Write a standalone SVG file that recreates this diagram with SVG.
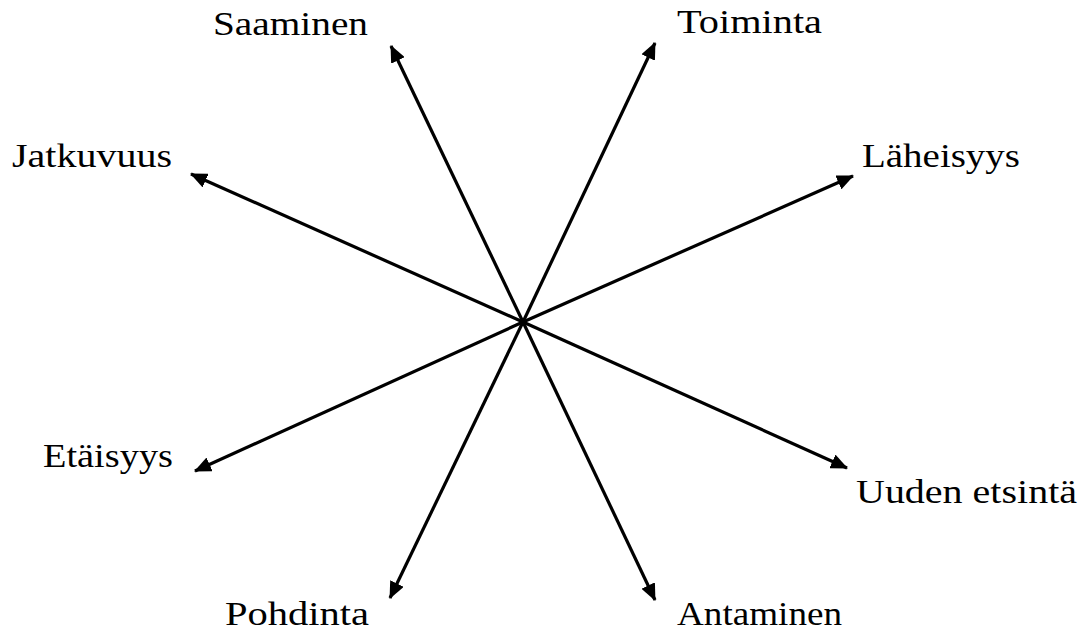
<svg xmlns="http://www.w3.org/2000/svg" width="1081" height="632" viewBox="0 0 1081 632">
<style>
.lbl{font-family:'Liberation Serif',Tinos,'Times New Roman',Times,serif;font-size:34px;fill:#000}
.ax{stroke:#000;stroke-width:3.2;fill:none;marker-end:url(#ah)}
</style>
<defs>
<marker id="ah" markerUnits="userSpaceOnUse" markerWidth="17" markerHeight="15" refX="16" refY="7.5" orient="auto">
<path d="M0,0 L17,7.5 L0,15 Z" fill="#000"/>
</marker>
</defs>
<rect width="1081" height="632" fill="#fff"/>
<g id="connectors">
<line class="ax" x1="523" y1="322" x2="391" y2="46"/>
<line class="ax" x1="523" y1="322" x2="655" y2="43"/>
<line class="ax" x1="523" y1="322" x2="191" y2="174"/>
<line class="ax" x1="523" y1="322" x2="853" y2="176"/>
<line class="ax" x1="523" y1="322" x2="195" y2="471"/>
<line class="ax" x1="523" y1="322" x2="847" y2="468"/>
<line class="ax" x1="523" y1="322" x2="390" y2="598"/>
<line class="ax" x1="523" y1="322" x2="655" y2="600"/>
</g>
<g id="n-saaminen"><text class="lbl" x="213" y="35" textLength="155" lengthAdjust="spacingAndGlyphs">Saaminen</text></g>
<g id="n-toiminta"><text class="lbl" x="677" y="33" textLength="145" lengthAdjust="spacingAndGlyphs">Toiminta</text></g>
<g id="n-jatkuvuus"><text class="lbl" x="12" y="167" textLength="160" lengthAdjust="spacingAndGlyphs">Jatkuvuus</text></g>
<g id="n-laheisyys"><text class="lbl" x="862" y="167" textLength="158" lengthAdjust="spacingAndGlyphs">Läheisyys</text></g>
<g id="n-etaisyys"><text class="lbl" x="43" y="467" textLength="130" lengthAdjust="spacingAndGlyphs">Etäisyys</text></g>
<g id="n-uuden"><text class="lbl" x="856" y="503" textLength="221" lengthAdjust="spacingAndGlyphs">Uuden etsintä</text></g>
<g id="n-pohdinta"><text class="lbl" x="225" y="625" textLength="144" lengthAdjust="spacingAndGlyphs">Pohdinta</text></g>
<g id="n-antaminen"><text class="lbl" x="677" y="625" textLength="165" lengthAdjust="spacingAndGlyphs">Antaminen</text></g>
</svg>
